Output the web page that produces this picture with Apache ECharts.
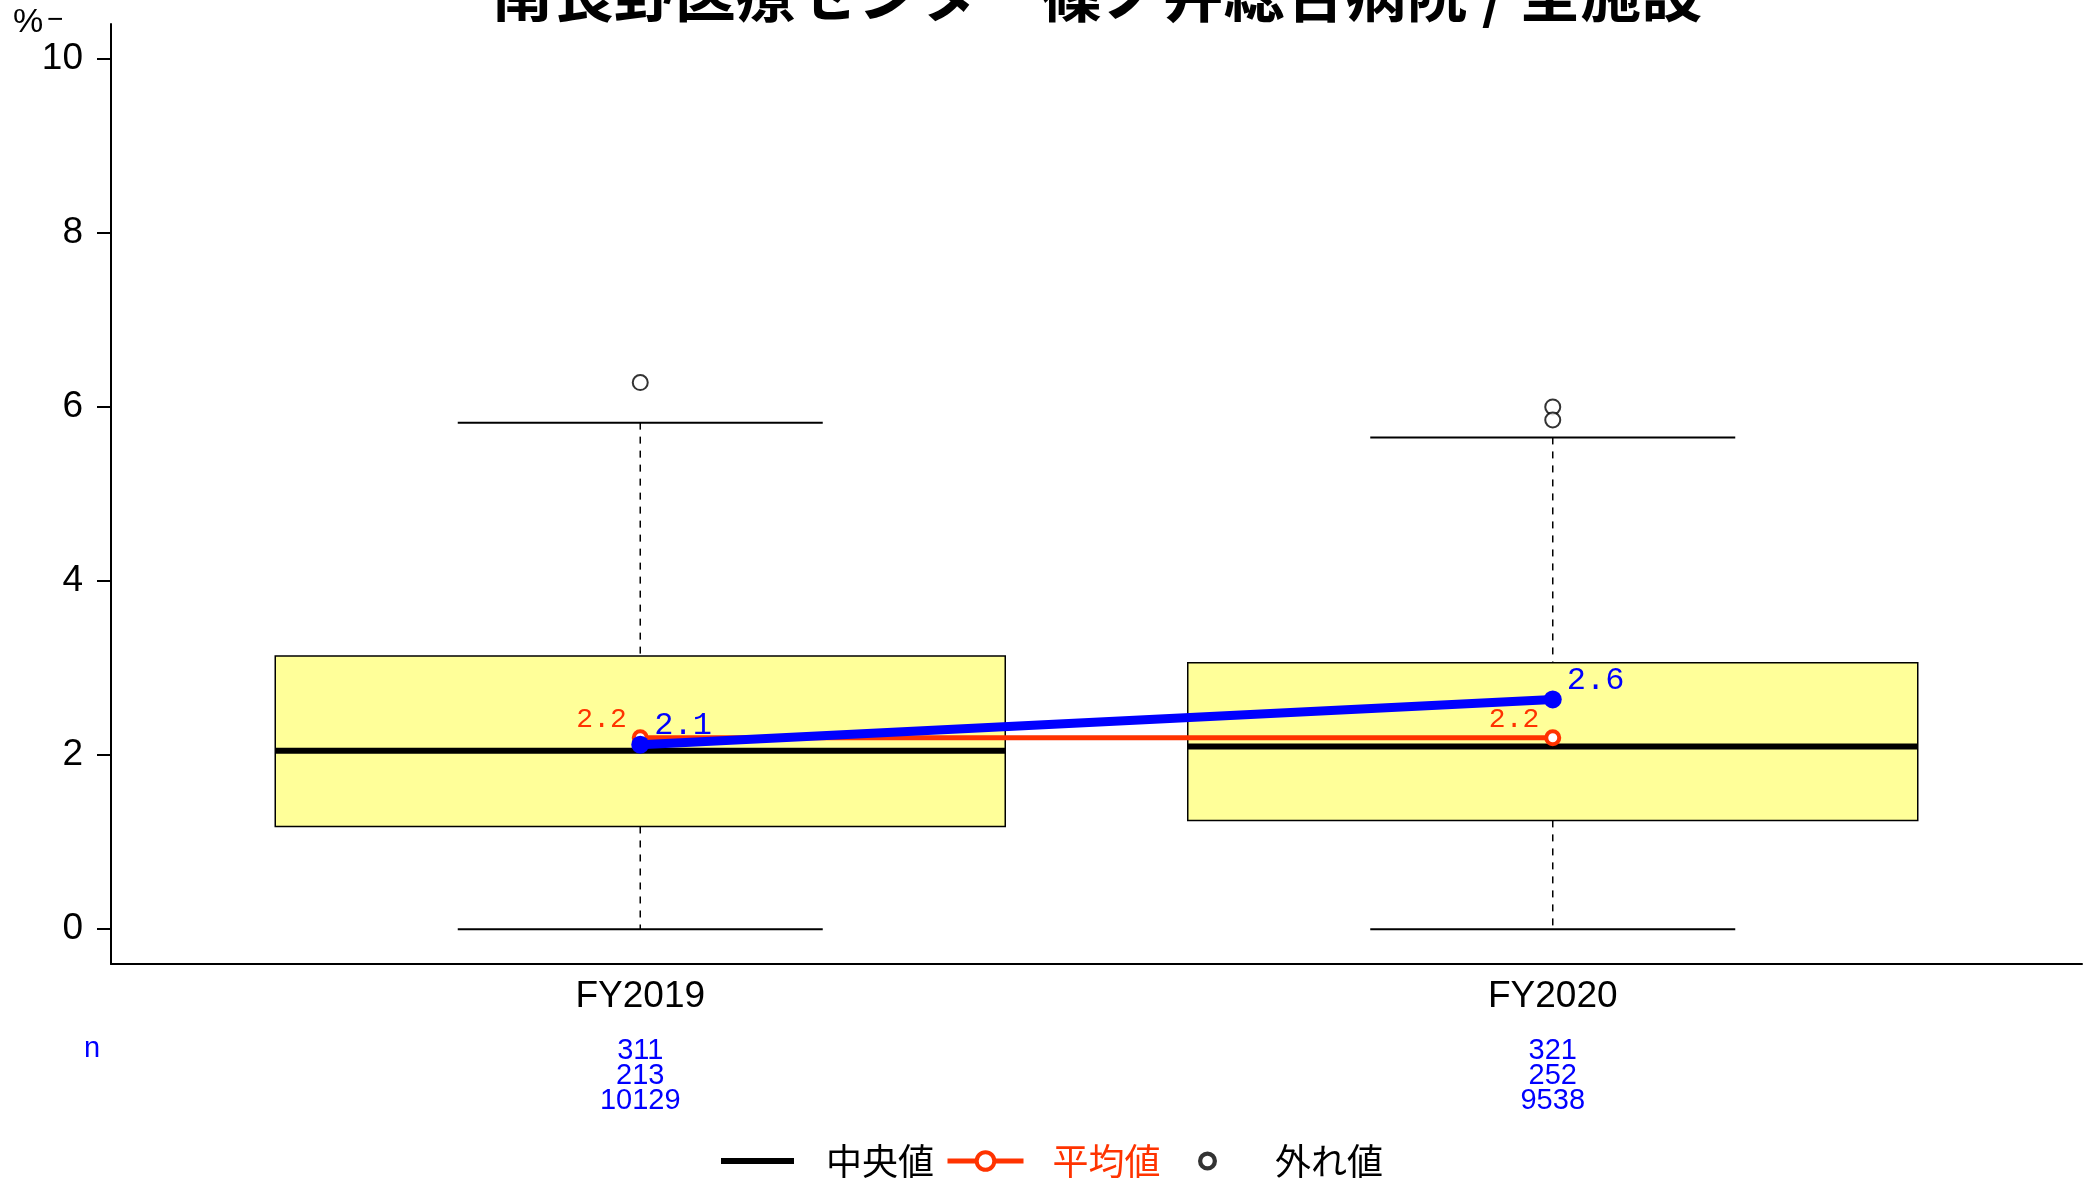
<!DOCTYPE html>
<html>
<head>
<meta charset="utf-8">
<script src="https://cdn.jsdelivr.net/npm/echarts@6/dist/echarts.min.js"></script>
<style>
  html, body { margin: 0; padding: 0; background: #fff; }
  #chart { width: 2093px; height: 1181px; }
</style>
</head>
<body>
<div id="chart"></div>
<script>
// 年度
const categories = ['FY2019', 'FY2020'];
// 箱ひげ図 (%)
const whiskerLow = [0, 0];
const q1 = [1.18, 1.25];
const median = [2.05, 2.1];
const q3 = [3.14, 3.06];
const whiskerHigh = [5.82, 5.65];
const outliers = [[6.28], [6.0, 5.85]];
// 平均値・当院
const meanValues = [2.2, 2.2];
const hospitalValues = [2.12, 2.64];
// n
const nRow1 = [311, 321];
const nRow2 = [213, 252];
const nRow3 = [10129, 9538];
const yTicks = [0, 2, 4, 6, 8, 10];

const latin = '"Liberation Sans", Arial, sans-serif';
const cjk = '"Noto Sans CJK JP", sans-serif';
const mono = '"Liberation Mono", "DejaVu Sans Mono", monospace';
// 凡例の外れ値アイコン(太いリング)
const ringIcon = 'path://M10,0 A10,10 0 1,0 10,20 A10,10 0 1,0 10,0 Z M10,4.5 A5.5,5.5 0 1,1 10,15.5 A5.5,5.5 0 1,1 10,4.5 Z';

const boxData = categories.map((c, i) => [i + 1, whiskerLow[i], q1[i], median[i], q3[i], whiskerHigh[i]]);
const outlierData = [];
outliers.forEach((arr, i) => arr.forEach(v => outlierData.push([i + 1, v])));

// 箱ひげの描画
function renderBox(params, api) {
  const x = api.value(0);
  const lo = api.coord([x, api.value(1)]);
  const b1 = api.coord([x, api.value(2)]);
  const md = api.coord([x, api.value(3)]);
  const b3 = api.coord([x, api.value(4)]);
  const hi = api.coord([x, api.value(5)]);
  const boxW = api.size([0.8, 0])[0];
  const capW = api.size([0.4, 0])[0];
  const cx = lo[0];
  const dash = { stroke: '#000', lineWidth: 1.5, lineDash: [7, 7] };
  const cap = { stroke: '#000', lineWidth: 2 };
  return {
    type: 'group',
    children: [
      { type: 'line', shape: { x1: cx, y1: hi[1], x2: cx, y2: b3[1] }, style: dash },
      { type: 'line', shape: { x1: cx, y1: b1[1], x2: cx, y2: lo[1] }, style: dash },
      { type: 'line', shape: { x1: cx - capW / 2, y1: hi[1], x2: cx + capW / 2, y2: hi[1] }, style: cap },
      { type: 'line', shape: { x1: cx - capW / 2, y1: lo[1], x2: cx + capW / 2, y2: lo[1] }, style: cap },
      { type: 'rect', shape: { x: cx - boxW / 2, y: b3[1], width: boxW, height: b1[1] - b3[1] },
        style: { fill: '#ffff99', stroke: '#000', lineWidth: 1.5 } },
      { type: 'line', shape: { x1: cx - boxW / 2, y1: md[1], x2: cx + boxW / 2, y2: md[1] },
        style: { stroke: '#000', lineWidth: 6 } }
    ]
  };
}

const chart = echarts.init(document.getElementById('chart'), null, { renderer: 'canvas' });
chart.setOption({
  animation: false,
  title: {
    text: '南長野医療センター篠ノ井総合病院 / 全施設',
    left: 1097,
    textAlign: 'center',
    top: -37,
    padding: 0,
    textStyle: { fontFamily: cjk, fontSize: 61, fontWeight: 'bold', color: '#000' }
  },
  grid: { left: 111, top: 24, width: 1971, height: 940 },
  xAxis: {
    type: 'value',
    min: 0.42,
    max: 2.58,
    splitLine: { show: false },
    axisTick: { show: false },
    axisLine: { onZero: false, lineStyle: { color: '#000', width: 2 } },
    axisLabel: {
      customValues: [1, 2],
      margin: 10,
      formatter: v => {
        const i = Math.round(v) - 1;
        return '{c|' + categories[i] + '}\n{s| }\n{n|' + nRow1[i] + '}\n{n|' + nRow2[i] + '}\n{n|' + nRow3[i] + '}';
      },
      rich: {
        c: { fontFamily: latin, fontSize: 37, lineHeight: 46, color: '#000' },
        s: { fontSize: 10, lineHeight: 18 },
        n: { fontFamily: latin, fontSize: 29, lineHeight: 25, color: '#0000ff' }
      }
    }
  },
  yAxis: {
    type: 'value',
    min: -0.4,
    max: 10.4,
    splitLine: { show: false },
    axisLine: { show: true, onZero: false, lineStyle: { color: '#000', width: 2 } },
    axisTick: { show: true, customValues: yTicks, length: 14, lineStyle: { color: '#000', width: 2 } },
    axisLabel: { customValues: yTicks, margin: 28, fontFamily: latin, fontSize: 37, color: '#000' }
  },
  legend: [
    {
      data: [{ name: '中央値', icon: 'rect', itemStyle: { color: '#000' } }],
      left: 721, top: 1143, padding: 0, itemWidth: 73, itemHeight: 6, selectedMode: false,
      textStyle: { fontFamily: cjk, fontSize: 36, color: '#000', padding: [0, 0, 0, 27] }
    },
    {
      data: [{ name: '平均値', lineStyle: { width: 5, color: '#ff3300' }, itemStyle: { color: '#fff', borderColor: '#ff3300', borderWidth: 4 } }],
      left: 945, top: 1143, padding: 0, itemWidth: 76, itemHeight: 22, selectedMode: false,
      textStyle: { fontFamily: cjk, fontSize: 36, color: '#ff3300', padding: [0, 0, 0, 24] }
    },
    {
      data: [{ name: '外れ値', icon: ringIcon, itemStyle: { color: '#000', borderWidth: 0 } }],
      left: 1198, top: 1143, padding: 0, itemWidth: 19, itemHeight: 19, selectedMode: false,
      textStyle: { fontFamily: cjk, fontSize: 36, color: '#000', padding: [0, 0, 0, 53] }
    }
  ],
  graphic: [
    { type: 'text', left: 13, top: 6, style: { text: '%', font: '34px "Liberation Sans"', fill: '#000' } },
    { type: 'text', left: 47, top: 6, style: { text: '−', font: '28px "Liberation Sans"', fill: '#000' } },
    { type: 'text', x: 92, y: 1049, style: { text: 'n', font: '29px "Liberation Sans"', fill: '#0000ff', align: 'center', verticalAlign: 'middle' } }
  ],
  series: [
    {
      name: '中央値',
      type: 'custom',
      renderItem: renderBox,
      data: boxData,
      encode: { x: 0, y: [1, 2, 3, 4, 5] },
      z: 1
    },
    {
      name: '外れ値',
      type: 'scatter',
      data: outlierData,
      symbol: 'emptyCircle',
      symbolSize: 15,
      itemStyle: { color: '#000', borderColor: '#000', borderWidth: 1.5 },
      z: 2
    },
    {
      name: '平均値',
      type: 'line',
      data: categories.map((c, i) => [i + 1, meanValues[i]]),
      color: '#ff3300',
      lineStyle: { width: 5, color: '#ff3300' },
      symbol: 'circle',
      symbolSize: 13,
      itemStyle: { color: '#fff', borderColor: '#ff3300', borderWidth: 4 },
      label: {
        show: true, position: 'left', offset: [0, -18],
        formatter: p => p.value[1].toFixed(1),
        fontFamily: mono, fontSize: 28, color: '#ff3300'
      },
      z: 3
    },
    {
      name: '当院',
      type: 'line',
      data: categories.map((c, i) => [i + 1, hospitalValues[i]]),
      color: '#0000ff',
      lineStyle: { width: 9, color: '#0000ff' },
      symbol: 'circle',
      symbolSize: 18,
      itemStyle: { color: '#0000ff' },
      label: {
        show: true, position: 'right', offset: [0, -19],
        formatter: p => p.value[1].toFixed(1),
        fontFamily: mono, fontSize: 32, color: '#0000ff'
      },
      z: 4
    }
  ]
});
</script>
</body>
</html>
